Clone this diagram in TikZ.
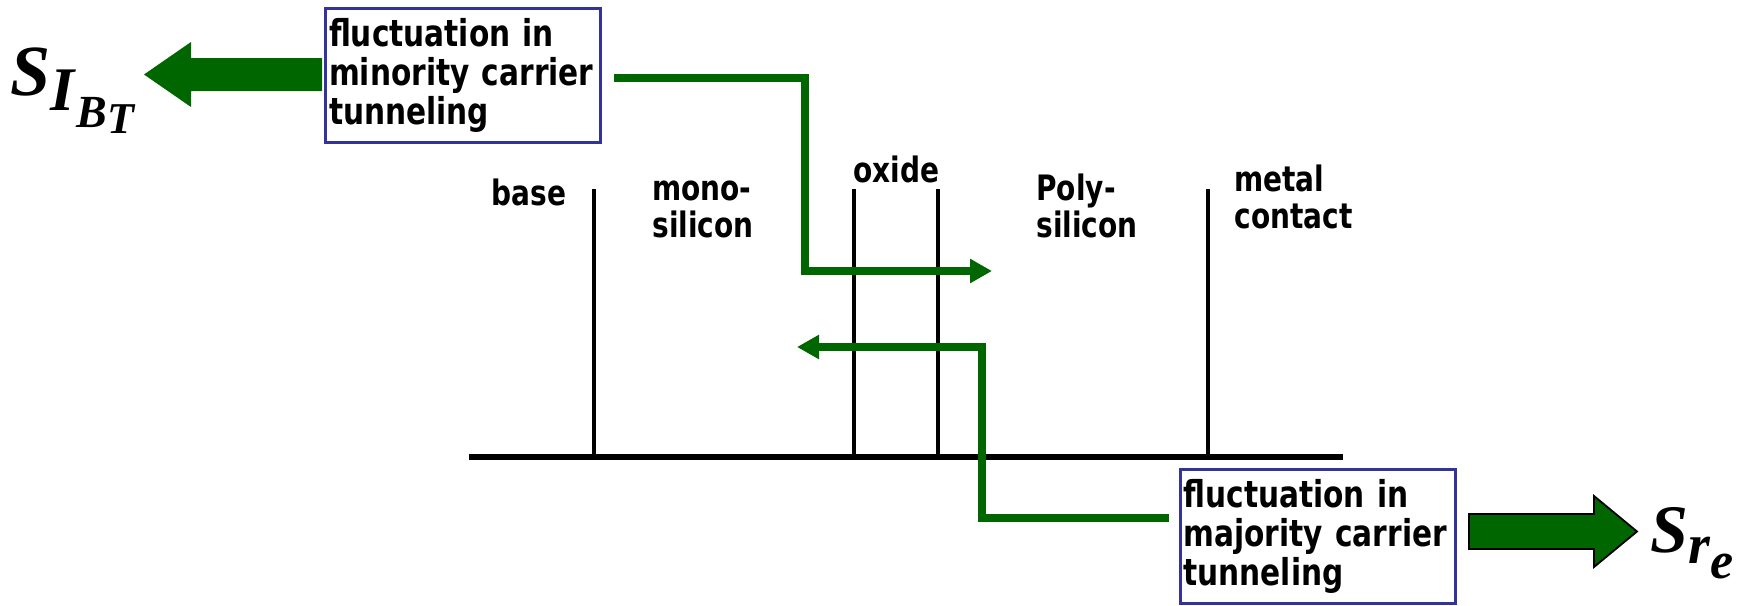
\documentclass[tikz,border=0pt]{standalone}
\usepackage{fontspec}
\setmainfont{DejaVu Sans}[FakeStretch=0.8]
\newfontfamily\symfont{Liberation Serif}
\usetikzlibrary{arrows.meta}
\definecolor{flowgreen}{RGB}{0,102,0}
\definecolor{boxblue}{RGB}{51,51,153}

\begin{document}
\begin{tikzpicture}[x=0.5pt,y=-0.5pt,>={Triangle[length=11pt,width=11.5pt]},
  note/.style={draw=boxblue,line width=1.5pt,fill=white,align=left,text width=134pt,inner xsep=1.75pt,minimum height=67pt,font=\bfseries\fontsize{18.5}{19.5}\selectfont},
  layer/.style={anchor=base west,align=left,inner sep=0pt,font=\bfseries\fontsize{17.5}{18.5}\selectfont},
  sym/.style={anchor=base west,inner sep=0pt,font=\symfont\bfseries\itshape},
  flow/.style={draw=flowgreen,line width=4pt,->},
  wall/.style={line width=2.2pt}]
\useasboundingbox (0,0) rectangle (1740,605);

% layers of the emitter stack
\draw[line width=3pt] (469,457) -- (1343,457);
\foreach \x in {594,854,938,1208}
  \draw[wall] (\x,189) -- (\x,457);

\node[layer] (base) at (491,205) {base};
\node[layer] (mono) at (652,237) {mono-\\silicon};
\node[layer] (oxide) at (853,182) {oxide};
\node[layer] (poly) at (1036,237) {Poly-\\silicon};
\node[layer] (metal) at (1234,228) {metal\\contact};

% the two tunneling processes
\node[note] (minbox) at (463,75.5) {fluctuation in\\minority carrier\\tunneling};
\node[note] (majbox) at (1317.5,536) {fluctuation in\\majority carrier\\tunneling};

\node[sym] (sib) at (10,95) {\fontsize{36}{36}\selectfont S\raisebox{-7.5pt}{\fontsize{31}{31}\selectfont I\kern1pt\raisebox{-8.5pt}{\fontsize{23}{23}\selectfont B\raisebox{-3pt}{\fontsize{22}{22}\selectfont T}}}};
\node[sym] (sre) at (1650,552) {\fontsize{34}{34}\selectfont S\raisebox{-5.5pt}{\fontsize{28}{28}\selectfont r\raisebox{-7.5pt}{\fontsize{26}{26}\selectfont e}}};

\coordinate (minbend) at (805,271);
\coordinate (mintip) at (992,271);
\coordinate (majbend) at (982,347);
\coordinate (majtip) at (797,347);
\draw[flow] ([xshift=6pt,yshift=-1.25pt]minbox.east) -| (minbend) -- (mintip);
\draw[flow] ([xshift=-5pt,yshift=9pt]majbox.west) -| (majbend) -- (majtip);

% big block arrows
\fill[flowgreen] (144,74.5) -- (191,42) -- (191,58) -- (322,58) -- (322,91) -- (191,91) -- (191,107) -- cycle;
\filldraw[fill=flowgreen,draw=black,line width=0.9pt] (1469,514) -- (1594,514) -- (1594,496) -- (1637,531.5) -- (1594,567) -- (1594,549) -- (1469,549) -- cycle;
\end{tikzpicture}
\end{document}
